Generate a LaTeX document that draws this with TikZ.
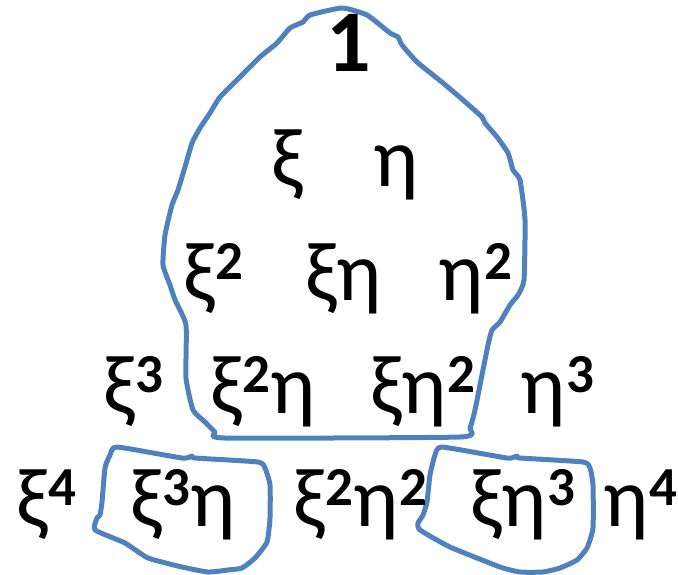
\documentclass[tikz,border=0pt]{standalone}
\usepackage{fontspec}
\setmainfont{Carlito}
\definecolor{blob}{RGB}{79,129,189}
\newcommand\SP[1]{\kern1pt\raisebox{21pt}{\fontsize{55}{55}\selectfont\bfseries #1}}
\begin{document}
\begin{tikzpicture}[x=1pt,y=-1pt,
  term/.style={anchor=base west,inner sep=0pt,font=\fontsize{84}{84}\selectfont},
  outline/.style={draw=blob,line width=5pt,line join=round,line cap=round}]
\useasboundingbox (0,0) rectangle (678,575);
% outlines
\draw[outline] plot[smooth cycle,tension=0.3] coordinates {
(342,8) (367,15) (390,33) (398,37) (402,45) (417,62) (443,83) (463,100) (482,117) (485,123) (497,137) (508,153) (513,170) (520,180) (525,220) (524,280) (518,295) (510,305) (500,322) (492,330) (488,345) (480,385) (475,410) (470,428) (460,437) (225,438) (215,432) (205,422) (193,410) (186,378) (186,325) (175,300) (170,285) (163,265) (165,235) (172,205) (178,190) (185,167) (192,143) (200,128) (210,113) (220,97) (240,77) (260,57) (277,43) (290,28) (303,22) (310,15)};
\draw[outline] plot[smooth cycle,tension=0.3] coordinates {
(117,447) (182,458) (192,456) (195,458) (258,462) (265,468) (270,485) (270,518) (267,542) (255,558) (242,568) (228,570) (208,572) (182,567) (148,558) (125,543) (95,530) (97,518) (100,515) (102,502) (105,468) (110,455)};
\draw[outline] plot[smooth cycle,tension=0.3] coordinates {
(442,447) (507,458) (517,456) (520,458) (583,462) (590,468) (593,485) (593,528) (587,548) (577,560) (560,568) (543,572) (520,572) (500,567) (450,547) (420,530) (418,523) (423,515) (427,502) (430,475) (435,455)};
% terms
\node[term,font=\fontsize{88}{88}\selectfont\bfseries] (one) at (326,72) {1};
\node[term] (x) at (271,186) {ξ};
\node[term] (y) at (373,186) {η};
\node[term] (xx) at (183,300) {ξ\SP{2}};
\node[term] (xy) at (305,300) {ξη};
\node[term] (yy) at (438,300) {η\SP{2}};
\node[term] (xxx) at (103,413) {ξ\SP{3}};
\node[term] (xxy) at (210,413) {ξ\SP{2}η};
\node[term] (xyy) at (370,413) {ξη\SP{2}};
\node[term] (yyy) at (520,413) {η\SP{3}};
\node[term] (x4) at (16,526) {ξ\SP{4}};
\node[term] (x3y) at (130,526) {ξ\SP{3}η};
\node[term] (x2y2) at (293,526) {ξ\SP{2}η\SP{2}};
\node[term] (xy3) at (470,526) {ξη\SP{3}};
\node[term] (y4) at (603,526) {η\SP{4}};
\end{tikzpicture}
\end{document}
